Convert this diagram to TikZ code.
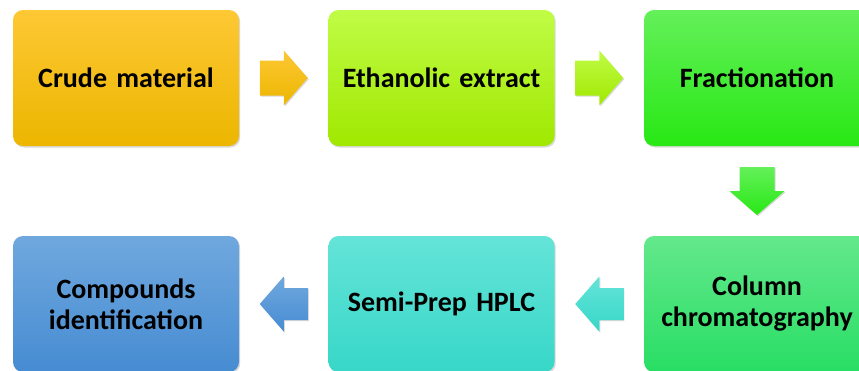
\documentclass[tikz,border=0pt]{standalone}
\usepackage{fontspec}
\setmainfont[WordSpace=0.8]{Carlito}
\usetikzlibrary{shadows,calc}
\definecolor{yT}{RGB}{253,200,52}
\definecolor{yB}{RGB}{236,182,0}
\definecolor{lgT}{RGB}{192,252,70}
\definecolor{lgB}{RGB}{160,232,0}
\definecolor{gT}{RGB}{100,240,90}
\definecolor{gB}{RGB}{40,232,20}
\definecolor{cT}{RGB}{100,232,140}
\definecolor{cB}{RGB}{40,222,100}
\definecolor{tT}{RGB}{100,228,216}
\definecolor{tB}{RGB}{55,215,200}
\definecolor{bT}{RGB}{112,168,222}
\definecolor{bB}{RGB}{70,140,210}
\begin{document}
\begin{tikzpicture}[x=1pt,y=-1pt,
  box/.style={rounded corners=10pt, minimum width=226pt, minimum height=136pt,
    inner sep=0pt, align=center, text width=224pt,
    font=\fontsize{28}{31}\selectfont\bfseries,
    drop shadow={opacity=0.3, shadow xshift=1.2pt, shadow yshift=-1.5pt}},
  blk/.style={draw=none, drop shadow={opacity=0.3, shadow xshift=1pt, shadow yshift=-1.2pt}}]
\useasboundingbox (0,0) rectangle (859,370);
\begin{scope}
\clip (0,0) rectangle (859,370);
\node[box, top color=yT, bottom color=yB] (crude) at (126,78) {Crude material};
\node[box, top color=lgT, bottom color=lgB] (eth) at (441.5,78) {Ethanolic extract};
\node[box, top color=gT, bottom color=gB] (frac) at (757,78) {Fractionation};
\node[box, top color=cT, bottom color=cB] (col) at (757,304) {Column\\chromatography};
\node[box, top color=tT, bottom color=tB] (hplc) at (441.5,304) {Semi-Prep HPLC};
\node[box, top color=bT, bottom color=bB] (comp) at (126,304) {Compounds\\identification};

\coordinate (m1) at ($(crude.east)!0.5!(eth.west)$);
\coordinate (m2) at ($(eth.east)!0.5!(frac.west)$);
\coordinate (m3) at ($(frac.south)!0.5!(col.north)$);
\coordinate (m4) at ($(col.west)!0.5!(hplc.east)$);
\coordinate (m5) at ($(hplc.west)!0.5!(comp.east)$);

\path[blk, top color=yT, bottom color=yB, shift={(m1)}]
  (-24,-17.5) -- (0,-17.5) -- (0,-27.5) -- (24,0) -- (0,27.5) -- (0,17.5) -- (-24,17.5) -- cycle;
\path[blk, top color=lgT, bottom color=lgB, shift={(m2)}]
  (-24,-17.5) -- (0,-17.5) -- (0,-27.5) -- (24,0) -- (0,27.5) -- (0,17.5) -- (-24,17.5) -- cycle;
\path[blk, top color=gT, bottom color=gB, shift={(m3)}]
  (-17.5,-24) -- (17.5,-24) -- (17.5,0) -- (27.5,0) -- (0,24) -- (-27.5,0) -- (-17.5,0) -- cycle;
\path[blk, top color=tT, bottom color=tB, shift={(m4)}]
  (24,-16) -- (0,-16) -- (0,-27.5) -- (-24,0) -- (0,27.5) -- (0,16) -- (24,16) -- cycle;
\path[blk, top color=bT, bottom color=bB, shift={(m5)}]
  (24,-16) -- (0,-16) -- (0,-27.5) -- (-24,0) -- (0,27.5) -- (0,16) -- (24,16) -- cycle;
\end{scope}
\end{tikzpicture}
\end{document}
